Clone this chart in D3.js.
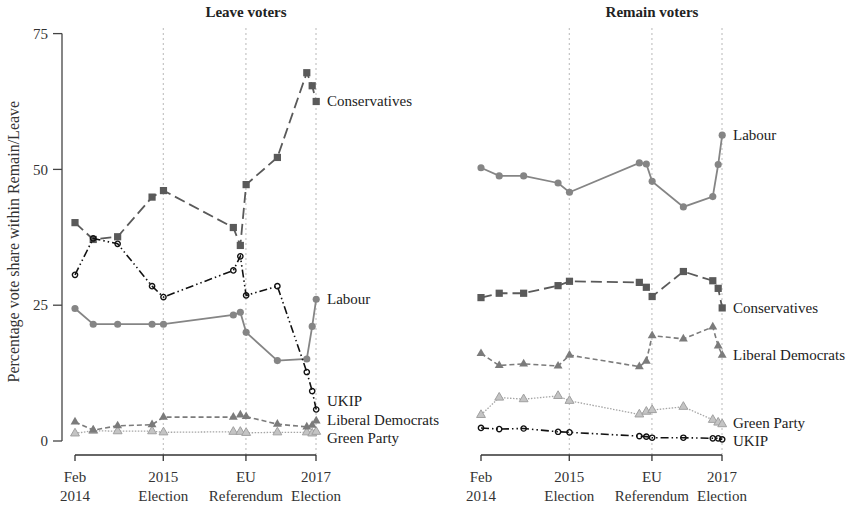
<!DOCTYPE html>
<html>
<head>
<meta charset="utf-8">
<script src="https://cdn.jsdelivr.net/npm/d3@7"></script>
<style>
  body { margin: 0; background: white; }
  svg { display: block; font-family: "Liberation Serif", "DejaVu Serif", serif; }
</style>
</head>
<body>
<svg id="chart" width="852" height="508"></svg>
<script>
// survey waves (approximate fieldwork dates)
const waves = ["2014-02-20", "2014-05-22", "2014-09-21", "2015-03-12", "2015-05-08",
  "2016-04-21", "2016-05-26", "2016-06-24", "2016-11-27", "2017-04-23",
  "2017-05-20", "2017-06-09"];

const parties = ["Green Party", "Liberal Democrats", "Labour", "Conservatives", "UKIP"];

// vote share among Leave voters
const leaveCon = [40.2, 37.1, 37.6, 44.9, 46.1, 39.3, 36.0, 47.2, 52.2, 67.8, 65.4, 62.5];
const leaveLab = [24.4, 21.5, 21.5, 21.5, 21.5, 23.2, 23.7, 20.0, 14.8, 15.1, 21.1, 26.1];
const leaveUkip = [30.6, 37.3, 36.3, 28.5, 26.5, 31.4, 34.0, 26.8, 28.5, 12.7, 9.2, 5.8];
const leaveLd = [3.5, 2.0, 2.8, 3.0, 4.4, 4.4, 4.8, 4.5, 3.1, 2.6, 2.9, 3.7];
const leaveGreen = [1.4, 1.9, 1.8, 1.8, 1.6, 1.7, 1.7, 1.5, 1.6, 1.6, 1.4, 1.7];

// vote share among Remain voters
const remainCon = [26.4, 27.2, 27.2, 28.6, 29.4, 29.2, 28.3, 26.6, 31.2, 29.5, 28.1, 24.5];
const remainLab = [50.3, 48.8, 48.8, 47.5, 45.8, 51.2, 51.0, 47.8, 43.1, 45.0, 50.9, 56.3];
const remainUkip = [2.4, 2.2, 2.3, 1.7, 1.6, 0.9, 0.8, 0.6, 0.6, 0.5, 0.5, 0.3];
const remainLd = [16.1, 13.9, 14.2, 13.8, 15.8, 13.7, 14.7, 19.4, 18.8, 21.0, 17.5, 15.8];
const remainGreen = [4.8, 8.0, 7.7, 8.3, 7.4, 4.9, 5.4, 5.7, 6.3, 3.9, 3.4, 3.1];

// where the end labels sit (nudged where they would collide)
const leaveLabelAt = [0.5, 3.9, 26.1, 62.5, 7.3];
const remainLabelAt = [3.3, 15.8, 56.3, 24.5, 0.0];

const tickDates = ["2014-02-20", "2015-05-07", "2016-06-23", "2017-06-08"];
const tickLines = [["Feb", "2014"], ["2015", "Election"], ["EU", "Referendum"], ["2017", "Election"]];
const yTicks = [0, 25, 50, 75];

const parse = d3.timeParse("%Y-%m-%d");

const style = {
  "Conservatives": { color: "#5a5a5a", dash: "11,5", width: 1.8, shape: d3.symbolSquare, size: 52, fill: "#5a5a5a" },
  "Labour": { color: "#858585", dash: null, width: 1.8, shape: d3.symbolCircle, size: 40, fill: "#858585" },
  "UKIP": { color: "#111", dash: "8,3,1.5,3,1.5,3", width: 1.6, shape: d3.symbolCircle, size: 22, fill: "none" },
  "Liberal Democrats": { color: "#7b7b7b", dash: "5,3", width: 1.6, shape: d3.symbolTriangle, size: 34, fill: "#7b7b7b" },
  "Green Party": { color: "#a5a5a5", dash: "1.5,1.5", width: 1.3, shape: d3.symbolTriangle, size: 34, fill: "#c4c4c4" },
};

const svg = d3.select("#chart");
const y = d3.scaleLinear().domain([0, 75]).range([441, 33.6]);
const domain = [parse("2014-02-20"), parse("2017-06-08")];

const panels = [
  { title: "Leave voters", range: [75, 316], center: 246, yAxis: true,
    series: [leaveGreen, leaveLd, leaveLab, leaveCon, leaveUkip], labelAt: leaveLabelAt },
  { title: "Remain voters", range: [481, 722], center: 652, yAxis: false,
    series: [remainGreen, remainLd, remainLab, remainCon, remainUkip], labelAt: remainLabelAt },
];

panels.forEach((p) => {
  const x = d3.scaleTime().domain(domain).range(p.range);
  const g = svg.append("g");

  g.append("text")
    .attr("x", p.center)
    .attr("y", 17)
    .attr("text-anchor", "middle")
    .style("font-weight", "bold")
    .style("font-size", "15px")
    .attr("fill", "#222")
    .text(p.title);

  // dotted event lines (not the first tick)
  g.selectAll("line.event")
    .data(tickDates.slice(1))
    .join("line")
    .attr("class", "event")
    .attr("x1", (d) => x(parse(d)))
    .attr("x2", (d) => x(parse(d)))
    .attr("y1", 28)
    .attr("y2", 455)
    .attr("stroke", "#b8b8b8")
    .attr("stroke-width", 1)
    .attr("stroke-dasharray", "2,3");

  // x axis: line with ticks hanging down, two-line labels
  const xa = g.append("g").attr("transform", "translate(0,455)");
  xa.append("line")
    .attr("x1", x(parse(tickDates[0])))
    .attr("x2", x(parse(tickDates[3])))
    .attr("stroke", "#333")
    .attr("stroke-width", 1.3);
  xa.selectAll("line.tick")
    .data(tickDates)
    .join("line")
    .attr("class", "tick")
    .attr("x1", (d) => x(parse(d)))
    .attr("x2", (d) => x(parse(d)))
    .attr("y1", 0)
    .attr("y2", 6)
    .attr("stroke", "#333")
    .attr("stroke-width", 1.3);
  xa.selectAll("text")
    .data(tickDates)
    .join("text")
    .attr("x", (d) => x(parse(d)))
    .attr("text-anchor", "middle")
    .style("font-size", "15px")
    .attr("fill", "#333")
    .selectAll("tspan")
    .data((d, i) => tickLines[i])
    .join("tspan")
    .attr("x", function () { return this.parentNode.getAttribute("x"); })
    .attr("y", (d, i) => 27 + i * 19)
    .text((d) => d);

  if (p.yAxis) {
    const ya = g.append("g").attr("transform", "translate(62,0)");
    ya.append("line")
      .attr("y1", y(0))
      .attr("y2", y(75))
      .attr("stroke", "#444")
      .attr("stroke-width", 1.3);
    ya.selectAll("line.tick")
      .data(yTicks)
      .join("line")
      .attr("class", "tick")
      .attr("x1", -9)
      .attr("x2", 0)
      .attr("y1", y)
      .attr("y2", y)
      .attr("stroke", "#444")
      .attr("stroke-width", 1.3);
    ya.selectAll("text")
      .data(yTicks)
      .join("text")
      .attr("x", -14)
      .attr("y", y)
      .attr("dy", "0.35em")
      .attr("text-anchor", "end")
      .style("font-size", "15px")
      .attr("fill", "#333")
      .text((d) => d);
    g.append("text")
      .attr("transform", `translate(19,${y(36.7)}) rotate(-90)`)
      .attr("text-anchor", "middle")
      .style("font-size", "16px")
      .attr("fill", "#333")
      .text("Percentage vote share within Remain/Leave");
  }

  const line = d3.line()
    .x((d, i) => x(parse(waves[i])))
    .y((d) => y(d));

  p.series.forEach((vals, k) => {
    const s = style[parties[k]];
    const sg = g.append("g");
    sg.append("path")
      .datum(vals)
      .attr("d", line)
      .attr("fill", "none")
      .attr("stroke", s.color)
      .attr("stroke-width", s.width)
      .attr("stroke-dasharray", s.dash);
    sg.selectAll("path.pt")
      .data(vals)
      .join("path")
      .attr("class", "pt")
      .attr("transform", (d, i) => `translate(${x(parse(waves[i]))},${y(d)})`)
      .attr("d", d3.symbol(s.shape, s.size))
      .attr("fill", s.fill)
      .attr("stroke", s.fill === "none" ? s.color : (k === 0 ? "#a0a0a0" : "none"))
      .attr("stroke-width", s.fill === "none" ? 1.4 : 1);

    g.append("text")
      .attr("x", p.range[1] + 11)
      .attr("y", y(p.labelAt[k]))
      .attr("dy", "0.33em")
      .style("font-size", "15px")
      .attr("fill", "#222")
      .text(parties[k]);
  });
});
</script>
</body>
</html>
